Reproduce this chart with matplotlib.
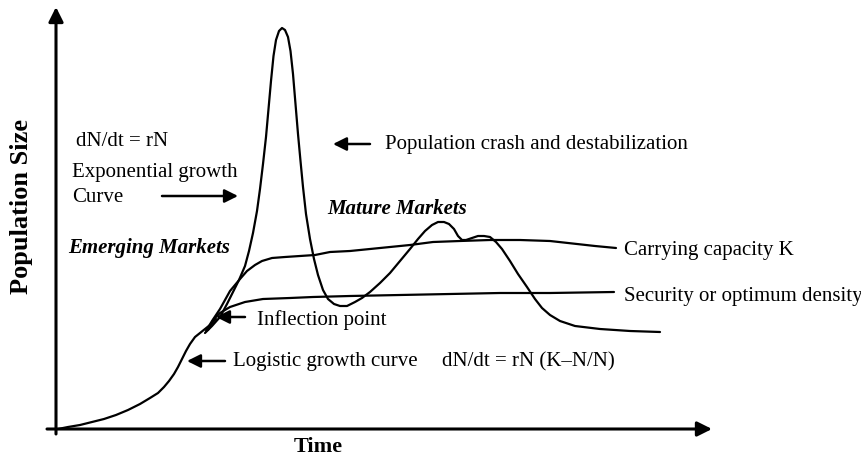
"""Logistic vs exponential population growth sketch (market maturity analogy)."""

import matplotlib

matplotlib.use("Agg")
import matplotlib.pyplot as plt

# curve data, time vs population size (arbitrary units)
logistic_t = [2, 12, 24, 36, 48, 60, 72, 84, 94, 102, 108, 113, 118, 122, 126, 130,
              134, 139, 144, 149, 154, 160]
logistic_n = [0, 2, 4, 7, 10, 14, 19, 25, 31, 36, 42, 48, 55, 62, 70, 78,
              85, 92, 96, 100, 104, 110]

exp_t = [149, 156, 164, 171, 177, 183,
         189, 193, 197, 201, 204, 207, 210, 212.5, 215, 217.5, 220, 223, 226,
         229, 232, 234.5, 237, 239.5, 242, 244.5, 247, 250, 254, 258, 262, 267, 272,
         278, 284,
         291, 299, 306, 314, 324, 334, 344, 354, 362, 369, 376, 382, 388, 393, 398,
         402, 406, 410, 416, 422, 428, 434, 440, 446, 454, 462, 471, 479, 486, 494,
         504, 519, 544, 574, 604]
exp_n = [96, 103, 112, 125, 137, 149,
         163, 178, 196, 218, 240, 265, 292, 320, 348, 373, 389, 398, 401,
         399, 392, 378, 355, 325, 295, 268, 242, 215, 190, 170, 154, 139, 130,
         125, 123,
         123, 127, 131, 137, 146, 156, 168, 180, 190, 198, 204, 207, 207, 205, 200,
         193, 189, 189, 191, 193, 193, 192, 187, 180, 168, 155, 142, 130, 121, 114,
         108, 103, 100, 98, 97]

carrying_t = [150, 156, 164, 174, 184, 191, 199, 206, 216, 229, 244, 259, 274, 294,
              314, 334, 354, 377, 404, 434, 464, 494, 521, 539, 560]
carrying_n = [98, 108, 120, 138, 150, 158, 164, 168, 171, 172, 173, 174, 177, 178,
              180, 182, 184, 187, 188, 189, 189, 188, 185, 183, 181]

security_t = [152, 158, 164, 174, 189, 207, 234, 257, 294, 344, 394, 444, 494, 558]
security_n = [99, 110, 116, 122, 127, 130, 131, 132, 133, 134, 135, 136, 136, 137]

# text labels: (text, t, n, style)
labels = [
    ("dN/dt = rN", 20, 289, "normal"),
    ("Exponential growth", 16, 257, "normal"),
    ("Curve", 16, 233, "normal"),
    ("Emerging Markets", 12, 182, "bolditalic"),
    ("Mature Markets", 271, 221, "bolditalic"),
    ("Population crash and destabilization", 329, 285, "normal"),
    ("Carrying capacity K", 568, 180, "normal"),
    ("Security or optimum density", 568, 133, "normal"),
    ("Inflection point", 201, 110, "normal"),
    ("Logistic growth curve", 177, 68, "normal"),
    ("dN/dt = rN (K\u2013N/N)", 386, 68, "normal"),
]

# pointer arrows: (tail_t, tail_n, tip_t, tip_n)
pointers = [
    (106, 233, 182, 233),
    (314, 285, 277, 285),
    (189, 112, 160, 112),
    (169, 68, 131, 68),
]

plt.rcParams["font.family"] = ["Liberation Serif", "DejaVu Serif"]

fig = plt.figure(figsize=(8.61, 4.60), dpi=100)
ax = fig.add_axes([0, 0, 1, 1])
ax.set_xlim(-56, 805)
ax.set_ylim(-30, 430)
ax.axis("off")

# hand-drawn style axes with arrow heads
axis_kw = dict(arrowstyle="-|>", lw=2.2, color="black", mutation_scale=22,
               shrinkA=0, shrinkB=0)
ax.annotate("", xy=(0, 422), xytext=(0, -5), arrowprops=axis_kw)
ax.annotate("", xy=(656, 0), xytext=(-9, 0), arrowprops=axis_kw)

for t, n in [(logistic_t, logistic_n), (exp_t, exp_n),
             (carrying_t, carrying_n), (security_t, security_n)]:
    ax.plot(t, n, color="black", lw=1.6, solid_capstyle="round",
            solid_joinstyle="round")

ptr_kw = dict(arrowstyle="-|>", lw=1.8, color="black", mutation_scale=20,
              shrinkA=0, shrinkB=0)
for t0, n0, t1, n1 in pointers:
    ax.annotate("", xy=(t1, n1), xytext=(t0, n0), arrowprops=ptr_kw)

for txt, t, n, style in labels:
    bold = style == "bolditalic"
    ax.text(t, n, txt, ha="left", va="center", fontsize=15,
            fontweight="bold" if bold else "normal",
            fontstyle="italic" if bold else "normal")

ax.text(262, -17, "Time", ha="center", va="center", fontsize=16, fontweight="bold")
ax.text(-34, 223, "Population Size", ha="center", va="center", fontsize=19,
        fontweight="bold", rotation=90)

fig.savefig("out.png", dpi=100, facecolor="white")
